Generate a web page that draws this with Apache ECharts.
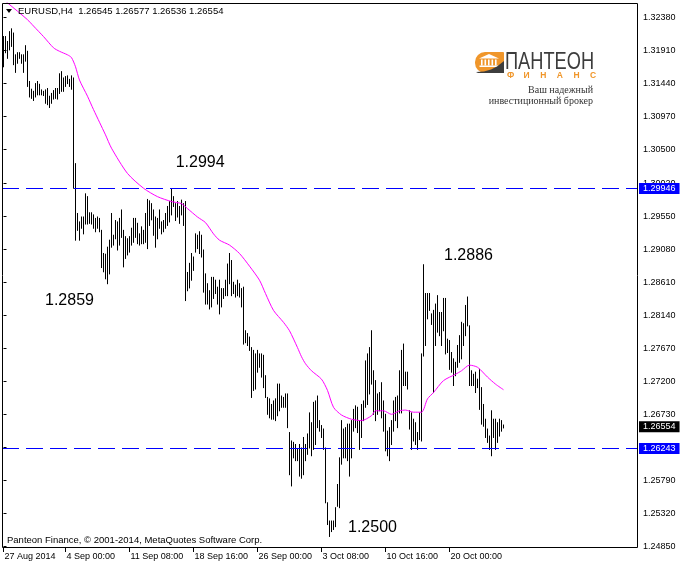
<!DOCTYPE html>
<html>
<head>
<meta charset="utf-8">
<script src="https://cdn.jsdelivr.net/npm/echarts@6/dist/echarts.min.js"></script>
<style>html,body{margin:0;padding:0;background:#fff}#c{width:680px;height:566px}</style>
</head>
<body>
<div id="c"></div>
<script>
// ---- Data (EURUSD, H4) ----
const highs = [
1.3211,1.3211,1.3204,1.3218,1.3222,1.3216,1.3185,1.3188,1.3188,1.3185,
1.3185,1.3198,1.3190,1.3147,1.3136,1.3133,1.3144,1.3147,1.3143,1.3135,
1.3133,1.3135,1.3137,1.3126,1.3130,1.3134,1.3137,1.3137,1.3158,1.3161,
1.3152,1.3154,1.3155,1.3150,1.3155,1.3152,1.3030,1.2959,1.2947,1.2954,
1.2954,1.2987,1.2983,1.2960,1.2960,1.2957,1.2952,1.2954,1.2952,1.2935,
1.2902,1.2901,1.2911,1.2921,1.2959,1.2928,1.2949,1.2947,1.2952,1.2964,
1.2935,1.2926,1.2923,1.2926,1.2938,1.2952,1.2952,1.2945,1.2930,1.2940,
1.2935,1.2959,1.2979,1.2977,1.2973,1.2964,1.2954,1.2952,1.2964,1.2947,
1.2949,1.2959,1.2969,1.2976,1.2994,1.2983,1.2973,1.2976,1.2969,1.2978,
1.2973,1.2976,1.2875,1.2888,1.2902,1.2897,1.2930,1.2928,1.2933,1.2928,
1.2907,1.2873,1.2859,1.2849,1.2868,1.2868,1.2864,1.2854,1.2864,1.2852,
1.2852,1.2864,1.2887,1.2902,1.2892,1.2861,1.2857,1.2864,1.2859,1.2852,
1.2854,1.2792,1.2788,1.2783,1.2768,1.2764,1.2759,1.2764,1.2759,1.2759,
1.2757,1.2728,1.2697,1.2695,1.2687,1.2692,1.2695,1.2716,1.2716,1.2699,
1.2697,1.2702,1.2702,1.2647,1.2635,1.2633,1.2630,1.2623,1.2630,1.2625,
1.2640,1.2630,1.2645,1.2675,1.2661,1.2690,1.2692,1.2699,1.2664,1.2657,
1.2652,1.2625,1.2547,1.2521,1.2521,1.2521,1.2540,1.2573,1.2611,1.2664,
1.2652,1.2654,1.2659,1.2659,1.2664,1.2680,1.2685,1.2683,1.2664,1.2687,
1.2692,1.2749,1.2759,1.2768,1.2792,1.2735,1.2721,1.2702,1.2704,1.2718,
1.2692,1.2673,1.2649,1.2654,1.2664,1.2692,1.2697,1.2699,1.2735,1.2764,
1.2773,1.2733,1.2733,1.2678,1.2675,1.2666,1.2661,1.2647,1.2675,1.2759,
1.2886,1.2845,1.2845,1.2845,1.2816,1.2821,1.2830,1.2842,1.2818,1.2818,
1.2838,1.2838,1.2780,1.2778,1.2761,1.2752,1.2747,1.2771,1.2785,1.2804,
1.2802,1.2828,1.2840,1.2799,1.2735,1.2730,1.2733,1.2723,1.2737,1.2711,
1.2687,1.2666,1.2652,1.2642,1.2678,1.2666,1.2666,1.2661,1.2666,1.2664,
1.26577
];
const lows = [
1.3168,1.3188,1.3180,1.3192,1.3197,1.3171,1.3160,1.3173,1.3180,1.3173,
1.3160,1.3176,1.3140,1.3125,1.3123,1.3120,1.3125,1.3128,1.3128,1.3128,
1.3127,1.3116,1.3114,1.3110,1.3116,1.3122,1.3123,1.3122,1.3130,1.3133,
1.3133,1.3140,1.3144,1.3140,1.3136,1.2995,1.2921,1.2935,1.2921,1.2938,
1.2930,1.2944,1.2944,1.2945,1.2944,1.2938,1.2933,1.2938,1.2933,1.2882,
1.2876,1.2866,1.2859,1.2873,1.2911,1.2914,1.2923,1.2907,1.2914,1.2925,
1.2883,1.2895,1.2900,1.2904,1.2914,1.2918,1.2925,1.2916,1.2914,1.2916,
1.2916,1.2918,1.2909,1.2942,1.2950,1.2928,1.2911,1.2923,1.2938,1.2930,
1.2933,1.2938,1.2942,1.2947,1.2957,1.2969,1.2949,1.2954,1.2945,1.2957,
1.2942,1.2835,1.2849,1.2853,1.2864,1.2878,1.2904,1.2909,1.2902,1.2897,
1.2847,1.2830,1.2830,1.2823,1.2826,1.2838,1.2845,1.2830,1.2816,1.2826,
1.2838,1.2842,1.2842,1.2859,1.2842,1.2845,1.2840,1.2842,1.2840,1.2826,
1.2773,1.2775,1.2771,1.2764,1.2697,1.2707,1.2709,1.2733,1.2740,1.2726,
1.2711,1.2697,1.2673,1.2668,1.2666,1.2666,1.2664,1.2671,1.2678,1.2683,
1.2683,1.2683,1.2654,1.2587,1.2571,1.2611,1.2607,1.2607,1.2585,1.2582,
1.2587,1.2607,1.2616,1.2625,1.2614,1.2623,1.2630,1.2654,1.2649,1.2640,
1.2623,1.2547,1.2516,1.2499,1.2506,1.2509,1.2513,1.2542,1.2540,1.2602,
1.2611,1.2611,1.2607,1.2585,1.2611,1.2649,1.2654,1.2647,1.2623,1.2640,
1.2664,1.2683,1.2687,1.2702,1.2716,1.2673,1.2664,1.2673,1.2678,1.2668,
1.2649,1.2621,1.2614,1.2607,1.2630,1.2649,1.2664,1.2654,1.2675,1.2675,
1.2714,1.2714,1.2709,1.2652,1.2623,1.2635,1.2630,1.2623,1.2637,1.2635,
1.2756,1.2771,1.2809,1.2821,1.2801,1.2704,1.2771,1.2790,1.2785,1.2771,
1.2792,1.2759,1.2761,1.2737,1.2733,1.2714,1.2728,1.2740,1.2747,1.2752,
1.2771,1.2785,1.2799,1.2714,1.2714,1.2714,1.2704,1.2711,1.2680,1.2659,
1.2656,1.2640,1.2633,1.2623,1.2614,1.2640,1.2623,1.2633,1.2642,1.2649,
1.26536
];
// Moving average (magenta), read at these bar indices
const maIndex = [0,2,12,15,20,25,28,32,34,36,38,42,45,48,51,54,62,70,77,84,89,92,97,101,105,108,113,118,123,128,131,135,140,143,147,149,151,154,159,162,165,169,174,179,184,186,190,194,198,201,205,209,212,215,220,226,229,233,237,242,246,250];
const maValue = [1.3264,1.3259,1.3235,1.3226,1.3211,1.3195,1.3190,1.3185,1.3181,1.3168,1.3149,1.3126,1.3107,1.3089,1.3071,1.3052,1.3016,1.2995,1.2983,1.2976,1.2973,1.2966,1.2954,1.2946,1.2930,1.2921,1.2914,1.2902,1.2884,1.2864,1.2845,1.2821,1.2804,1.2792,1.2768,1.2755,1.2745,1.2735,1.2723,1.2707,1.2683,1.2672,1.2666,1.2664,1.2671,1.2678,1.2678,1.2673,1.2678,1.2679,1.2676,1.2676,1.2695,1.2704,1.2721,1.2730,1.2735,1.2743,1.2740,1.2726,1.2716,1.2708];
// Horizontal levels
const levelPrices = [1.29946, 1.26243];
const lastPrice = 1.26554;
// Text annotations (bar index, price, text)
const annotIndex = [86.1, 20.75, 220.25, 172.25];
const annotPrice = [1.30318, 1.28344, 1.28995, 1.25118];
const annotText = ['1.2994', '1.2859', '1.2886', '1.2500'];
// Axis ticks
const xTickIdx = [0, 31, 63, 95, 127, 159, 191, 223];
const xTickLabels = ['27 Aug 2014','4 Sep 00:00','11 Sep 08:00','18 Sep 16:00','26 Sep 00:00','3 Oct 08:00','10 Oct 16:00','20 Oct 00:00'];
const yTicks = [1.32380,1.31910,1.31440,1.30970,1.30500,1.30020,1.29550,1.29080,1.28610,1.28140,1.27670,1.27200,1.26730,1.26260,1.25790,1.25320,1.24850];
const titleText = 'EURUSD,H4  1.26545 1.26577 1.26536 1.26554';
const copyrightText = 'Panteon Finance, \u00a9 2001-2014, MetaQuotes Software Corp.';

const FONT = 'Liberation Sans, Arial, sans-serif';
const chart = echarts.init(document.getElementById('c'), null, {renderer: 'canvas'});

const barData = highs.map((h, i) => [i, h, lows[i]]);
const maData = maIndex.map((x, k) => [x, maValue[k]]);
const annotData = annotIndex.map((x, k) => [x, annotPrice[k], annotText[k]]);

const levelLabel = (bg) => ({
  show: true, position: 'end', distance: 2,
  formatter: p => Number(p.value).toFixed(5),
  color: '#fff', backgroundColor: bg, padding: [1, 4, 0, 4],
  fontSize: 9, fontFamily: FONT, lineHeight: 10
});

const logoLetters = 'ФИНАНС'.split('');

const option = {
  animation: false,
  backgroundColor: '#fff',
  textStyle: {fontFamily: FONT},
  grid: {left: 2, top: 3, width: 635, height: 544, containLabel: false, outerBoundsMode: 'none', show: false},
  xAxis: {
    type: 'value', min: -0.75, max: 316.75,
    axisLine: {show: false},
    splitLine: {show: false},
    axisTick: {show: true, customValues: xTickIdx, length: 5, lineStyle: {color: '#000', width: 1}},
    axisLabel: {
      show: true, customValues: xTickIdx, align: 'left', margin: 5, padding: [0, 0, 0, 1],
      color: '#000', fontSize: 9, fontFamily: FONT,
      formatter: v => { const k = xTickIdx.indexOf(Math.round(v)); return k >= 0 ? xTickLabels[k] : ''; }
    }
  },
  yAxis: {
    type: 'value', position: 'right', min: 1.24840, max: 1.32588, scale: true,
    axisLine: {show: false},
    splitLine: {show: false},
    axisTick: {show: true, customValues: yTicks, length: 3, lineStyle: {color: '#000', width: 1}},
    axisLabel: {
      show: true, customValues: yTicks, margin: 6, color: '#000', fontSize: 9, fontFamily: FONT,
      formatter: v => Number(v).toFixed(5)
    }
  },
  series: [
    {
      type: 'custom', name: 'EURUSD', silent: true,
      encode: {x: 0, y: [1, 2]},
      data: barData,
      renderItem: (params, api) => {
        const x = api.value(0);
        const p1 = api.coord([x, api.value(1)]);
        const p2 = api.coord([x, api.value(2)]);
        return {type: 'line', shape: {x1: p1[0], y1: p1[1] - 0.5, x2: p2[0], y2: p2[1] + 0.5},
                style: {stroke: '#000', lineWidth: 1}};
      },
      z: 3
    },
    {
      type: 'line', name: 'MA', data: maData, symbol: 'none', smooth: 0.25, clip: true, silent: true,
      lineStyle: {color: '#ff00ff', width: 1}, z: 4,
      markLine: {
        silent: true, symbol: ['none', 'none'], animation: false, precision: 5,
        lineStyle: {color: '#0000ff', width: 1, type: [17, 7], opacity: 1},
        label: levelLabel('#0000ff'),
        data: levelPrices.map(v => ({yAxis: v}))
      }
    },
    {
      type: 'scatter', name: 'notes', data: annotData, symbolSize: 0, silent: true, z: 5,
      itemStyle: {opacity: 1},
      label: {show: true, position: 'right', distance: 0, formatter: p => p.data[2],
              fontSize: 16, color: '#000', opacity: 1, fontFamily: FONT},
      markLine: {
        silent: true, symbol: ['none', 'none'], animation: false, precision: 5,
        lineStyle: {color: '#000', width: 1, opacity: 0},
        label: Object.assign(levelLabel('#000000'), {opacity: 1}),
        data: [{yAxis: lastPrice}]
      }
    }
  ],
  graphic: [
    {type: 'rect', silent: true, z: 10, shape: {x: 2.5, y: 3.5, width: 635, height: 544},
     style: {fill: 'none', stroke: '#000', lineWidth: 1}},
    {type: 'polygon', silent: true, z: 10, shape: {points: [[6, 9], [12, 9], [9, 13]]}, style: {fill: '#000'}},
    {type: 'text', silent: true, z: 10, x: 18, y: 11, style: {text: titleText, fill: '#000', font: '9.5px ' + FONT, verticalAlign: 'middle'}},
    {type: 'text', silent: true, z: 10, x: 7, y: 540, style: {text: copyrightText, fill: '#000', font: '9.5px ' + FONT, verticalAlign: 'middle'}},
    // logo
    {type: 'rect', silent: true, z: 10, shape: {x: 475, y: 52, width: 29, height: 21, r: [10, 1, 1, 10]}, style: {fill: '#f0962a'}},
    {type: 'polygon', silent: true, z: 11, shape: {points: [[479, 58.5], [489, 54], [499, 58.5]]}, style: {fill: '#fff'}},
    {type: 'rect', silent: true, z: 11, shape: {x: 481, y: 59.5, width: 1.6, height: 6}, style: {fill: '#fff'}},
    {type: 'rect', silent: true, z: 11, shape: {x: 484.5, y: 59.5, width: 1.6, height: 6}, style: {fill: '#fff'}},
    {type: 'rect', silent: true, z: 11, shape: {x: 488, y: 59.5, width: 1.6, height: 6}, style: {fill: '#fff'}},
    {type: 'rect', silent: true, z: 11, shape: {x: 491.5, y: 59.5, width: 1.6, height: 6}, style: {fill: '#fff'}},
    {type: 'rect', silent: true, z: 11, shape: {x: 495, y: 59.5, width: 1.6, height: 6}, style: {fill: '#fff'}},
    {type: 'rect', silent: true, z: 11, shape: {x: 479.5, y: 65.5, width: 19, height: 1.5}, style: {fill: '#fff'}},
    {type: 'polygon', silent: true, z: 12, shape: {points: [[476, 72], [484, 71.5], [491, 69.5], [497, 66.5], [504, 61], [504, 73], [478, 73]]}, style: {fill: '#3d3d3d'}},
    {type: 'text', silent: true, z: 10, x: 505, y: 62, scaleX: 0.76, originX: 0, originY: 0,
     style: {text: 'ПАНТЕОН', fill: '#3c3c3c', font: '24px ' + FONT, verticalAlign: 'middle'}},
    ...logoLetters.map((ch, k) => ({type: 'text', silent: true, z: 10, x: 507 + k * 16.6, y: 76,
      style: {text: ch, fill: '#f0962a', font: 'bold 8.5px ' + FONT, verticalAlign: 'middle'}})),
    {type: 'text', silent: true, z: 10, x: 593, y: 90, style: {text: 'Ваш надежный', fill: '#333', font: '10px Liberation Serif, serif', align: 'right', verticalAlign: 'middle'}},
    {type: 'text', silent: true, z: 10, x: 593, y: 101, style: {text: 'инвестиционный брокер', fill: '#333', font: '10px Liberation Serif, serif', align: 'right', verticalAlign: 'middle'}}
  ]
};
chart.setOption(option);
</script>
</body>
</html>
